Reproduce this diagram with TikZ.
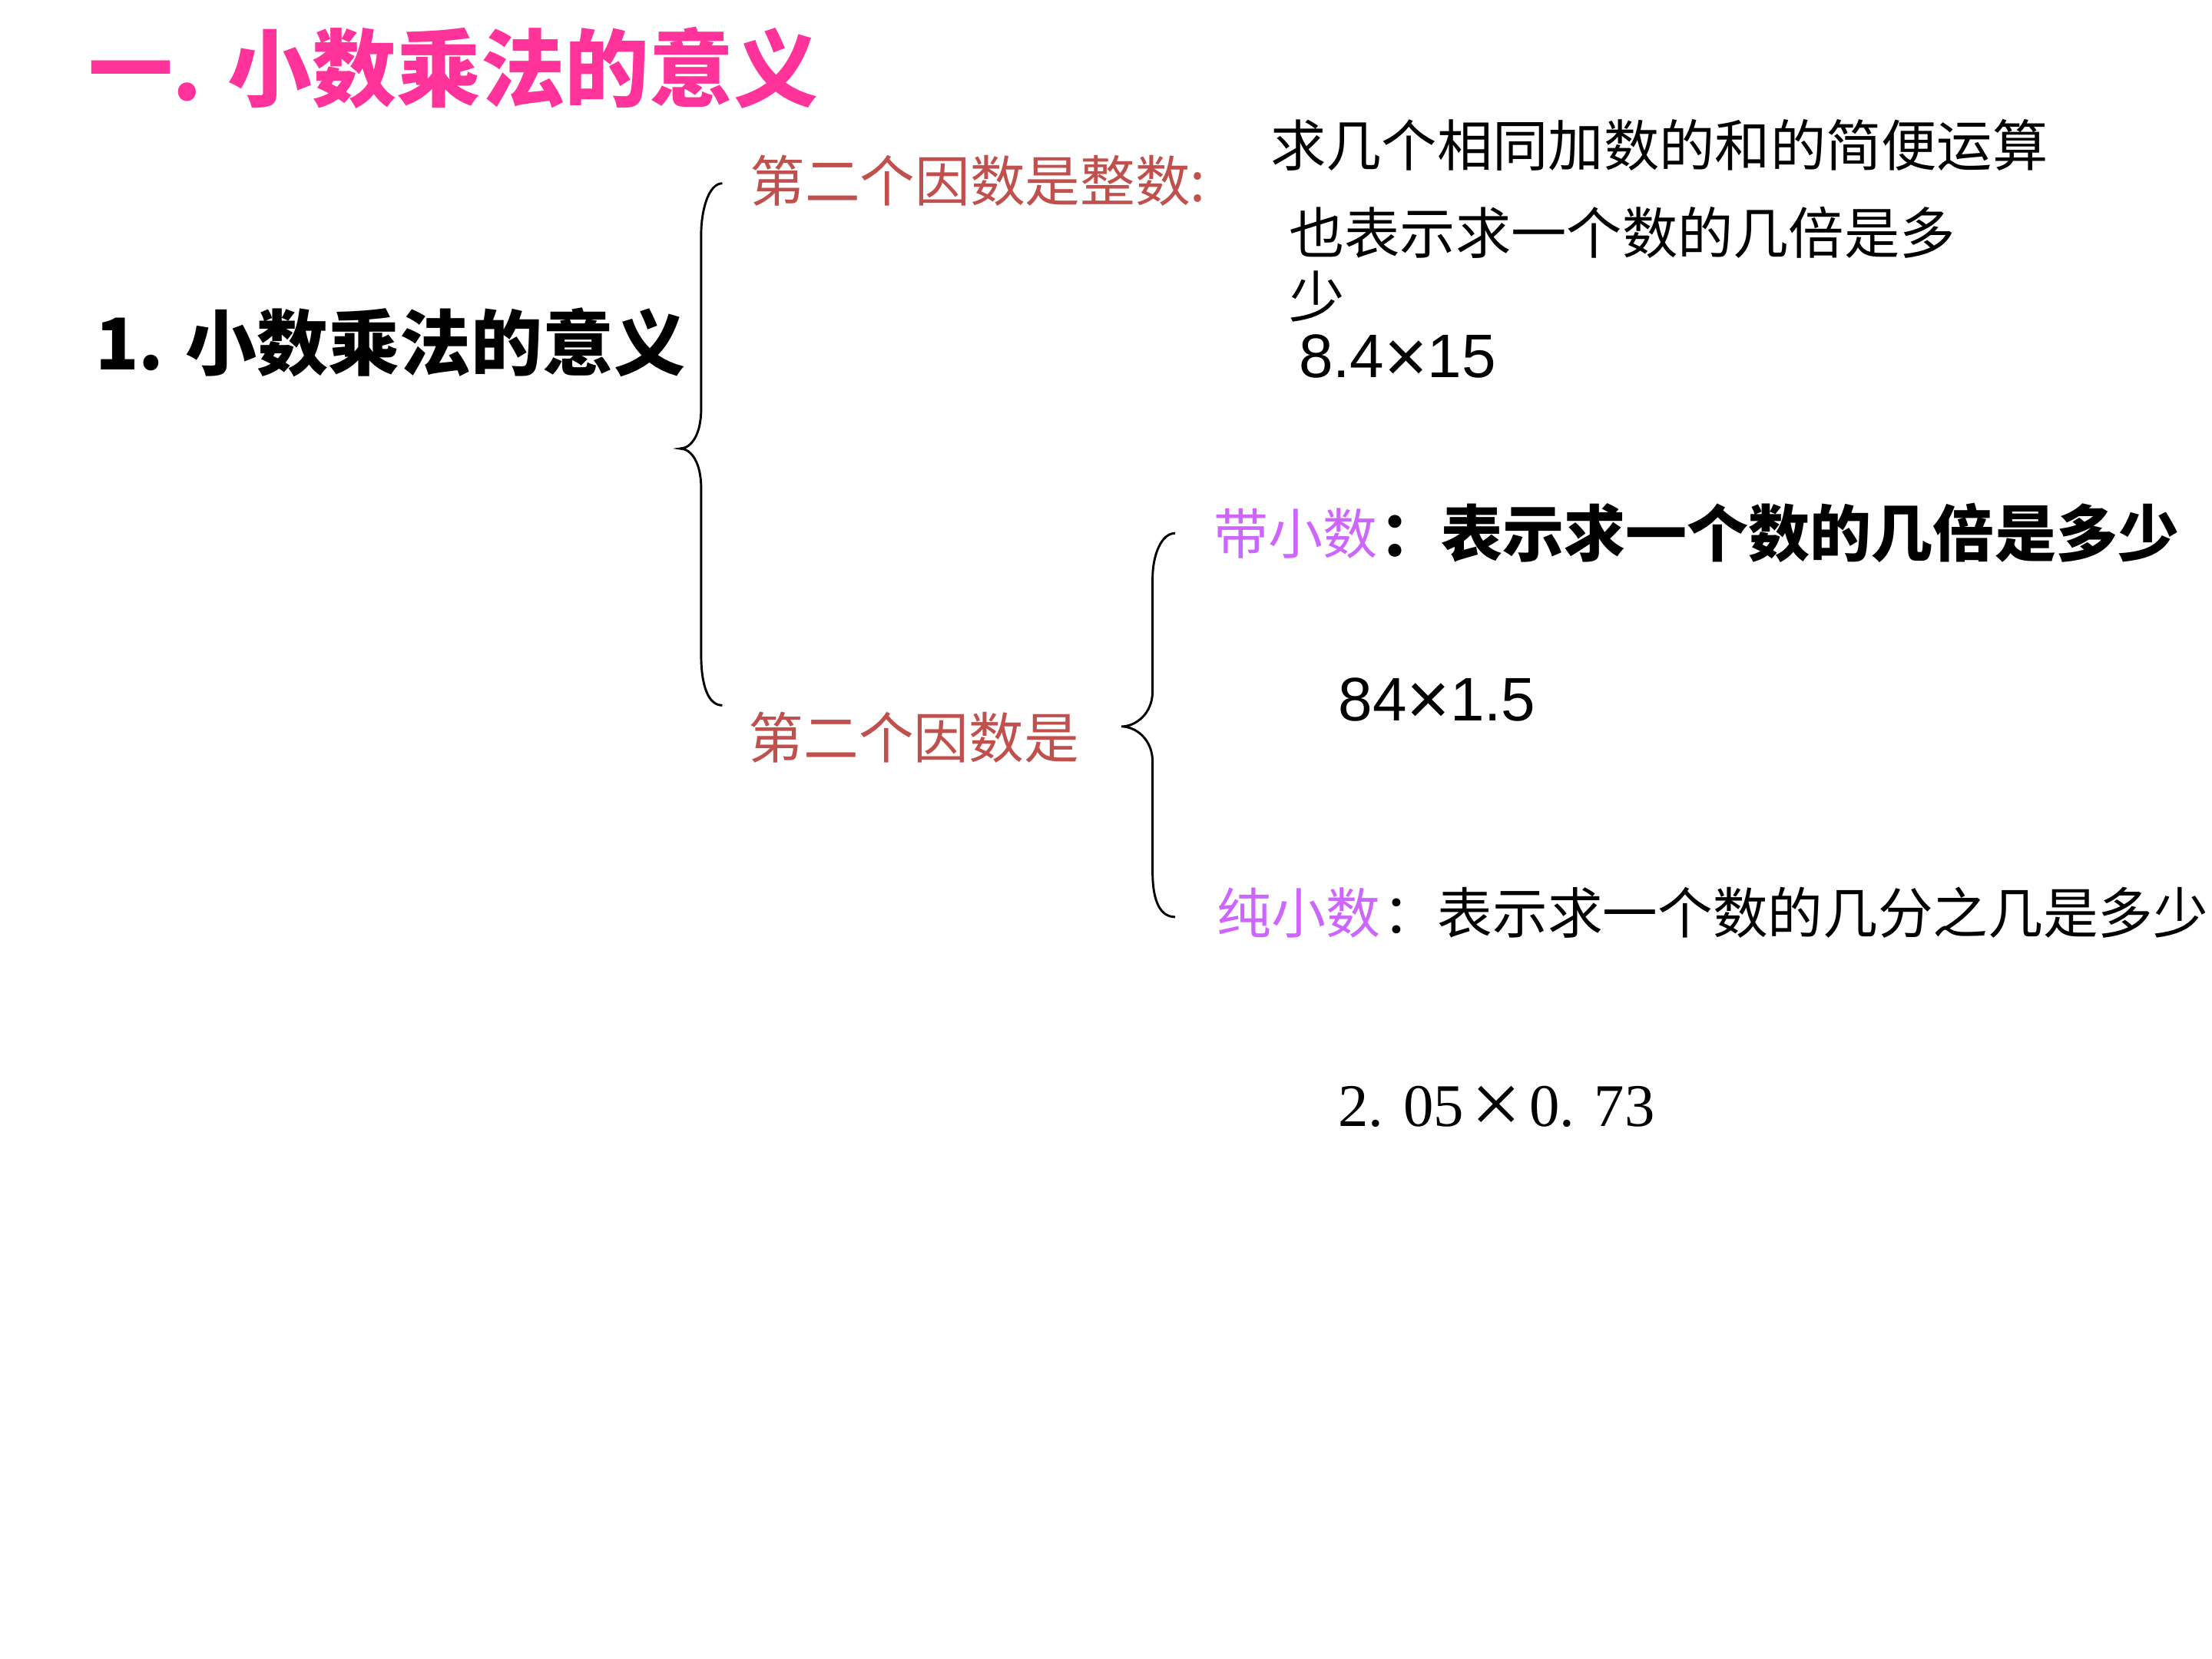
\documentclass[tikz,border=0pt]{standalone}
\usepackage{fontspec}
\setmainfont{Noto Sans CJK SC}
\newfontfamily\sansnum{Liberation Sans}
\newfontfamily\serifnum{Liberation Serif}
% a larger multiplication sign, lowered onto the digits
\newcommand{\bigtimes}[2]{\raisebox{#2}{\fontsize{#1}{#1}\selectfont ×}}
\definecolor{titlepink}{RGB}{255,51,153}
\definecolor{factorred}{RGB}{192,80,77}
\definecolor{decviolet}{RGB}{204,102,255}

\begin{document}
\begin{tikzpicture}[
  every node/.style={inner sep=0pt, anchor=west},
  heading/.style={font=\bfseries\fontsize{17}{20}\selectfont, text=titlepink},
  subheading/.style={font=\bfseries\fontsize{14.4}{17}\selectfont},
  factor/.style={font=\fontsize{11.1}{13}\selectfont, text=factorred},
  kind/.style={font=\fontsize{11}{13}\selectfont, text=decviolet},
  meaning/.style={font=\fontsize{11.2}{12.8}\selectfont, align=left},
  example/.style={font=\sansnum\fontsize{12.4}{14}\selectfont},
  brace/.style={line width=0.45pt},
]
  \useasboundingbox (0,0) rectangle (15.68,11.76);

  \node[heading] (title) at (0.62,11.28) {一. 小数乘法的意义};
  \node[subheading] (meaning) at (0.67,9.33) {1. 小数乘法的意义};

  % second factor is a whole number
  \node[factor] (whole) at (5.31,10.48) {第二个因数是整数:};
  \node[meaning] (sum) at (9.00,10.73) {求几个相同加数的和的简便运算};
  \node[meaning] (times) at (9.13,9.885) {也表示求一个数的几倍是多\\少};
  \node[example] (ex1) at (9.20,9.22) {8.4\bigtimes{15}{-0.8pt}15};

  % second factor is a decimal
  \node[factor] (decimal) at (5.30,6.53) {第二个因数是};
  \node[kind] (mixed) at (8.60,7.98) {带小数};
  \node[font=\bfseries\fontsize{12.4}{14}\selectfont] (mixedtxt) at (mixed.east) {：表示求一个数的几倍是多少};
  \node[example] (ex2) at (9.48,6.79) {84\bigtimes{15}{-0.8pt}1.5};
  \node[kind] (pure) at (8.62,5.29) {纯小数};
  \node[font=\fontsize{11.1}{13}\selectfont] (puretxt) at (pure.east) {：表示求一个数的几分之几是多少};
  \node[font=\serifnum\fontsize{12.2}{14}\selectfont] (ex3) at (9.48,3.89)
    {2.\hspace{4pt}05\hspace{1.5pt}\bigtimes{18}{-1.6pt}\hspace{1.5pt}0.\hspace{4pt}73};

  \coordinate (b1top) at (5.12,10.46);
  \coordinate (b1tip) at (4.82,8.58);
  \coordinate (b1bot) at (5.12,6.76);
  \draw[brace] (b1top) .. controls +(-0.10,0) and +(0,0.16) .. (4.97,10.10)
    -- (4.97,8.86) .. controls +(0,-0.18) and +(0.08,0) .. (b1tip)
    .. controls +(0.08,0) and +(0,0.18) .. (4.97,8.30)
    -- (4.97,7.12) .. controls +(0,-0.22) and +(-0.10,0) .. (b1bot);

  \coordinate (b2top) at (8.33,7.98);
  \coordinate (b2tip) at (7.95,6.61);
  \coordinate (b2bot) at (8.33,5.26);
  \draw[brace] (b2top) .. controls +(-0.10,0) and +(0,0.16) .. (8.17,7.66)
    -- (8.17,6.86) .. controls +(0,-0.16) and +(0.10,0) .. (b2tip)
    .. controls +(0.10,0) and +(0,0.16) .. (8.17,6.36)
    -- (8.17,5.58) .. controls +(0,-0.22) and +(-0.10,0) .. (b2bot);
\end{tikzpicture}
\end{document}
